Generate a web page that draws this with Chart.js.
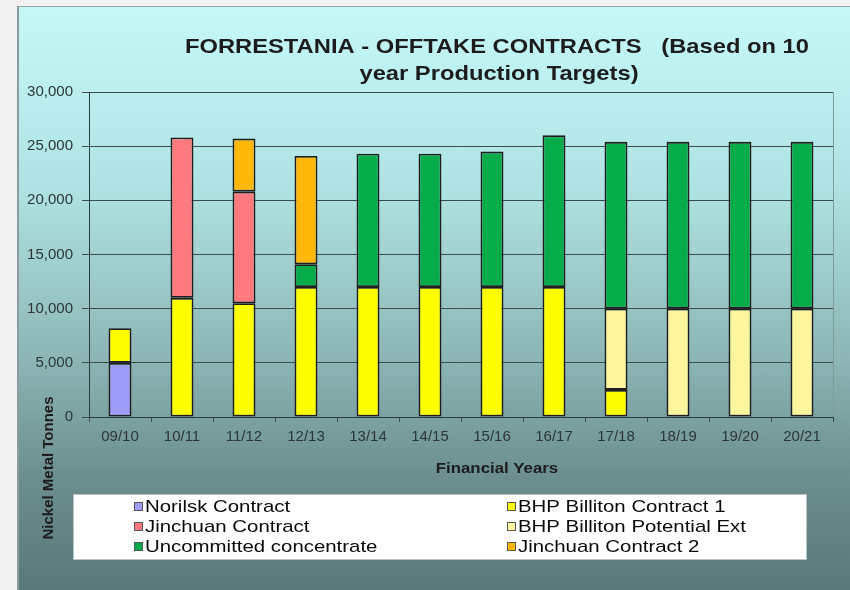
<!DOCTYPE html>
<html>
<head>
<meta charset="utf-8">
<script src="https://cdn.jsdelivr.net/npm/chart.js@4/dist/chart.umd.min.js"></script>
<style>
  html, body { margin: 0; padding: 0; background: #f2f2f2; width: 850px; height: 590px; overflow: hidden; }
  #panel {
    position: absolute; left: 17px; top: 6px; width: 833px; height: 584px;
    border-left: 2px solid #8c9c9c; border-top: 1px solid #9aa4a4;
    box-sizing: border-box;
    background: linear-gradient(to bottom, #c6f8f8 0%, #b0e4e4 30%, #8db6b6 60%, #6d8f8f 80%, #5a7878 100%);
  }
  #c { position: absolute; left: 0; top: 0; }
</style>
</head>
<body>
<div id="panel"><canvas id="c" width="831" height="583"></canvas></div>
<script>
// ---- data ----
const categories = ['09/10','10/11','11/12','12/13','13/14','14/15','15/16','16/17','17/18','18/19','19/20','20/21'];
const norilsk     = [5000, null, null, null, null, null, null, null, null, null, null, null];
const bhp1        = [3200, 11000, 10500, 12000, 12000, 12000, 12000, 12000, 2500, null, null, null];
const bhpExt      = [null, null, null, null, null, null, null, null, 7500, 10000, 10000, 10000];
const jinchuan    = [null, 14800, 10300, null, null, null, null, null, null, null, null, null];
const uncommitted = [null, null, null, 2100, 12300, 12300, 12500, 14000, 15400, 15400, 15400, 15400];
const jinchuan2   = [null, null, 4900, 10000, null, null, null, null, null, null, null, null];
const yTicks = [0, 5000, 10000, 15000, 20000, 25000, 30000];

const titleLines = ['FORRESTANIA - OFFTAKE CONTRACTS   (Based on 10', 'year Production Targets)'];
const xTitle = 'Financial Years';
const yTitle = 'Nickel Metal Tonnes';

const FONT = '"Liberation Sans", Arial, sans-serif';

function stretchedText(ctx, text, x, y, font, sx, align, color) {
  ctx.save();
  ctx.font = font;
  ctx.fillStyle = color;
  ctx.textBaseline = 'middle';
  ctx.textAlign = align;
  ctx.translate(x, y);
  ctx.scale(sx, 1);
  ctx.fillText(text, 0, 0);
  ctx.restore();
}

const decorPlugin = {
  id: 'decor',
  afterDraw(chart) {
    const ctx = chart.ctx;
    const ca = chart.chartArea;
    // right border of plot area
    ctx.save();
    ctx.strokeStyle = '#7f9c9c';
    ctx.lineWidth = 1;
    ctx.beginPath();
    ctx.moveTo(ca.right + 0.5, ca.top);
    ctx.lineTo(ca.right + 0.5, ca.bottom);
    ctx.stroke();
    ctx.restore();

    // title
    stretchedText(ctx, titleLines[0], 478, 40, 'bold 21px ' + FONT, 1.13, 'center', '#1c1c1c');
    stretchedText(ctx, titleLines[1], 480, 67, 'bold 21px ' + FONT, 1.13, 'center', '#1c1c1c');

    // x axis title
    stretchedText(ctx, xTitle, 478, 462, 'bold 15px ' + FONT, 1.12, 'center', '#1c1c1c');

    // y axis title (rotated)
    ctx.save();
    ctx.translate(30, 461);
    ctx.rotate(-Math.PI / 2);
    ctx.font = 'bold 15px ' + FONT;
    ctx.fillStyle = '#1c1c1c';
    ctx.textAlign = 'center';
    ctx.textBaseline = 'middle';
    ctx.fillText(yTitle, 0, 0);
    ctx.restore();

    // legend box
    const lx = 54, ly = 487, lw = 733, lh = 65;
    ctx.save();
    ctx.fillStyle = '#ffffff';
    ctx.fillRect(lx, ly, lw, lh);
    ctx.strokeStyle = '#b8c4c4';
    ctx.lineWidth = 1;
    ctx.strokeRect(lx + 0.5, ly + 0.5, lw, lh);
    ctx.restore();

    const ds = chart.data.datasets;
    // legend order: left column then right column
    const order = [[0, 115, 500], [3, 115, 520], [4, 115, 540], [1, 488, 500], [2, 488, 520], [5, 488, 540]];
    order.forEach(([i, x, y]) => {
      const d = ds[i];
      ctx.save();
      ctx.fillStyle = d.backgroundColor;
      ctx.fillRect(x, y - 5, 9, 9);
      ctx.strokeStyle = '#555';
      ctx.lineWidth = 1;
      ctx.strokeRect(x + 0.5, y - 4.5, 8, 8);
      ctx.restore();
      stretchedText(ctx, d.label, x + 11, y, '17px ' + FONT, 1.2, 'left', '#0a0a0a');
    });
  }
};

const border = '#1e1e1e';
const chart = new Chart(document.getElementById('c'), {
  type: 'bar',
  data: {
    labels: categories,
    datasets: [
      { label: 'Norilsk Contract', data: norilsk, backgroundColor: '#9d9cf6' },
      { label: 'BHP Billiton Contract 1', data: bhp1, backgroundColor: '#ffff00' },
      { label: 'BHP Billiton Potential Ext', data: bhpExt, backgroundColor: '#fff59c' },
      { label: 'Jinchuan Contract', data: jinchuan, backgroundColor: '#ff7a7e' },
      { label: 'Uncommitted concentrate', data: uncommitted, backgroundColor: '#07ac4a' },
      { label: 'Jinchuan Contract 2', data: jinchuan2, backgroundColor: '#ffb70a' }
    ].map(d => Object.assign(d, {
      borderColor: border, borderWidth: 1.8, borderSkipped: false,
      categoryPercentage: 1, barPercentage: 0.37
    }))
  },
  options: {
    responsive: false,
    animation: false,
    devicePixelRatio: 1,
    layout: { padding: { top: 85, right: 17, bottom: 133, left: 0 } },
    plugins: {
      legend: { display: false },
      title: { display: false },
      tooltip: { enabled: false }
    },
    scales: {
      x: {
        stacked: true,
        offset: true,
        afterFit(scale) { scale.height = 40; },
        grid: { display: true, drawOnChartArea: false, offset: true, tickLength: 5, color: '#3e4c4c' },
        border: { display: true, color: '#2e3a3a', width: 1 },
        ticks: { color: '#2c3636', font: { family: FONT, size: 15 }, padding: 6, maxRotation: 0, autoSkip: false }
      },
      y: {
        stacked: true,
        min: yTicks[0],
        max: yTicks[yTicks.length - 1],
        afterFit(scale) { scale.width = 70; },
        afterBuildTicks(scale) { scale.ticks = yTicks.map(v => ({ value: v })); },
        grid: { color: '#3e4c4c', lineWidth: 1, tickLength: 7 },
        border: { display: true, color: '#2e3a3a', width: 1 },
        ticks: {
          color: '#2c3636', font: { family: FONT, size: 15 }, padding: 9,
          callback: v => v.toLocaleString('en-US')
        }
      }
    }
  },
  plugins: [decorPlugin]
});
</script>
</body>
</html>
